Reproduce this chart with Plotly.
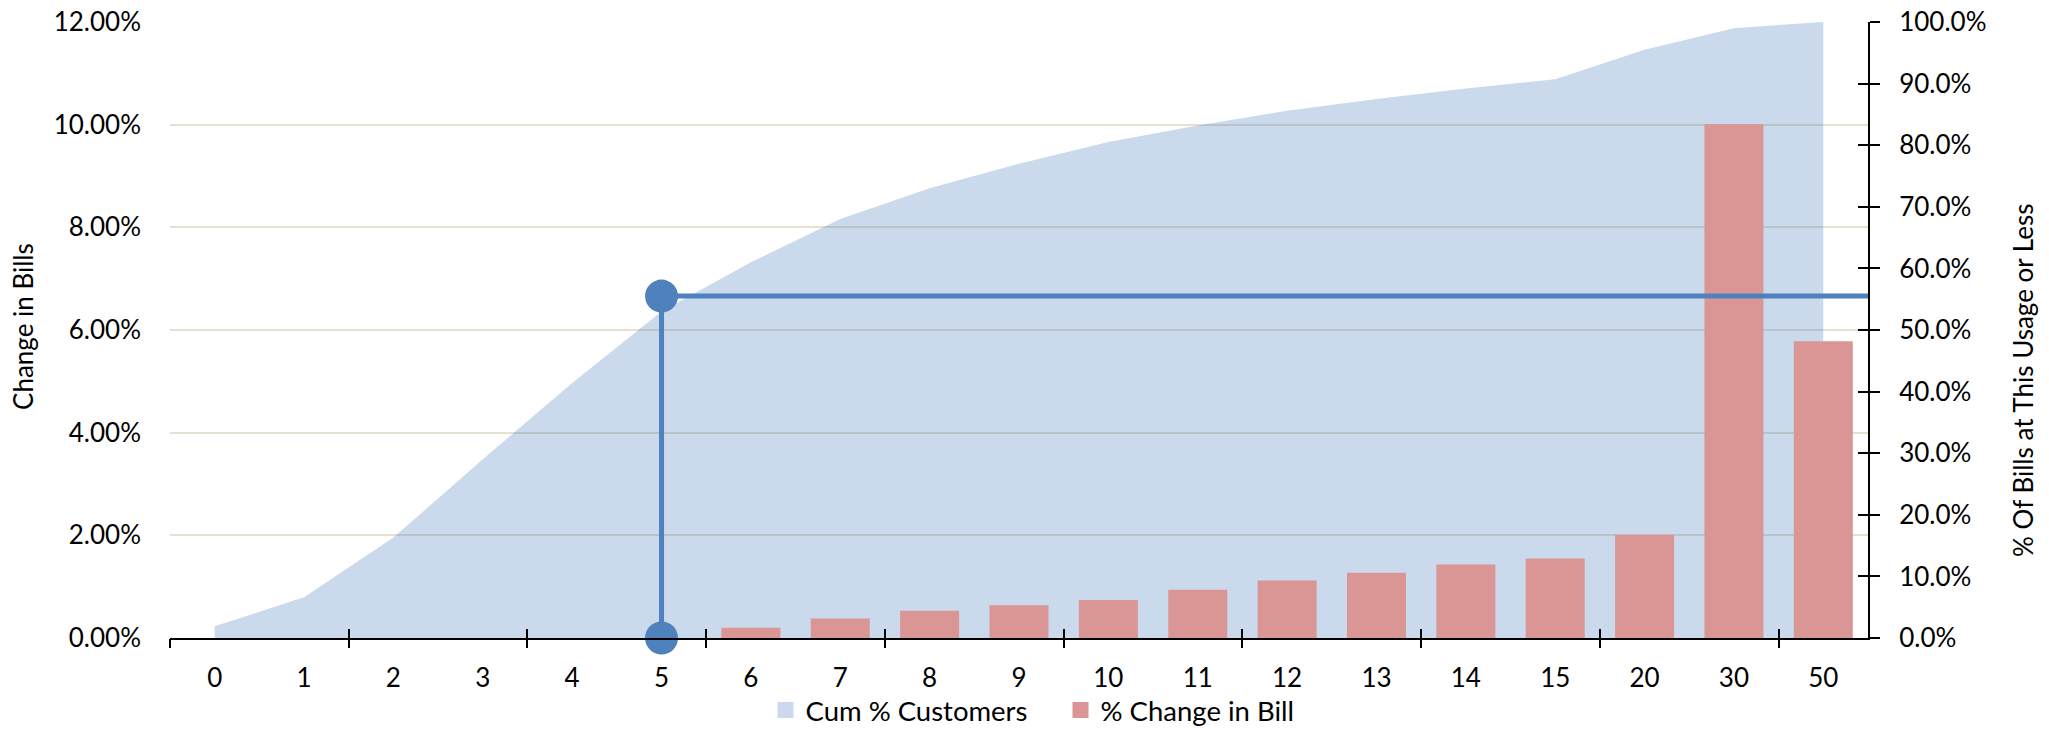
import plotly.graph_objects as go

categories = ["0", "1", "2", "3", "4", "5", "6", "7", "8", "9", "10",
              "11", "12", "13", "14", "15", "20", "30", "50"]
cum_customers = [0.019, 0.066, 0.163, 0.290, 0.414, 0.530, 0.610, 0.680,
                 0.730, 0.770, 0.805, 0.832, 0.856, 0.875, 0.892, 0.907,
                 0.955, 0.990, 1.000]
bill_change = [0, 0, 0, 0, 0, 0, 0.0020, 0.0038, 0.0053, 0.0064, 0.0074,
               0.0094, 0.0112, 0.0127, 0.0143, 0.0155, 0.0201, 0.1001, 0.0578]
series_names = ["Cum % Customers", "% Change in Bill"]
left_title = "Change in Bills"
right_title = "% Of Bills at This Usage or Less"
highlight_category = "5"
highlight_value = 0.0666

BLUE = "#4F81BD"
AREA = "rgba(79,129,189,0.30)"
AREA_SOLID = "#CAD9EB"
RED = "#D99694"
n = len(categories)
idx = list(range(n))
hx = categories.index(highlight_category)
xr = [-0.5, n - 0.5]
boundaries = [i - 0.5 for i in range(0, n, 2)]

fig = go.Figure()
fig.add_trace(go.Scatter(
    x=idx, y=cum_customers, name=series_names[0], mode="none",
    fill="tozeroy", fillcolor=AREA, showlegend=False,
    xaxis="x", yaxis="y"))
fig.add_trace(go.Bar(
    x=idx, y=bill_change, name=series_names[1], showlegend=False,
    marker=dict(color=RED, line=dict(width=0)),
    xaxis="x", yaxis="y2"))
fig.add_trace(go.Scatter(
    x=[hx, hx, xr[1]], y=[0, highlight_value, highlight_value],
    mode="lines+markers", showlegend=False, cliponaxis=False,
    marker=dict(size=[33, 33, 0], color=BLUE, opacity=1,
                line=dict(width=0)),
    line=dict(color=BLUE, width=5), opacity=1,
    xaxis="x", yaxis="y2"))
# legend swatches (square) for the two series
for name, col in zip(series_names, [AREA_SOLID, RED]):
    fig.add_trace(go.Scatter(
        x=[None], y=[None], name=name, mode="markers",
        marker=dict(symbol="square", size=18, color=col,
                    line=dict(width=0)),
        xaxis="x", yaxis="y"))
# empty traces so the tick-mark-only axes get drawn
for xa, ya in [("x2", "y"), ("x3", "y"), ("x", "y3")]:
    fig.add_trace(go.Scatter(x=[], y=[], xaxis=xa, yaxis=ya,
                             showlegend=False, hoverinfo="skip"))

tickfont = dict(family="Lato", size=26, color="black")
titlefont = dict(family="Lato", size=26, color="black")

fig.update_layout(
    width=2049, height=729,
    margin=dict(l=170, r=181, t=22, b=91, autoexpand=False),
    paper_bgcolor="white", plot_bgcolor="white",
    font=dict(family="Lato", color="black"),
    bargap=0.34,
    showlegend=True,
    legend=dict(orientation="h", x=0.3507, xanchor="left",
                y=-0.1169, yanchor="middle", bgcolor="rgba(0,0,0,0)",
                entrywidth=250,
                font=dict(family="Lato", size=27.5, color="black"),
                traceorder="normal"),
    xaxis=dict(range=xr, tickvals=idx, ticktext=categories, ticks="",
               showgrid=False, zeroline=False, showline=True,
               linecolor="black", linewidth=2, tickfont=tickfont,
               ticklabelstandoff=16),
    xaxis2=dict(range=xr, overlaying="x", anchor="y", side="bottom",
                tickvals=boundaries, ticks="outside", ticklen=9,
                tickwidth=1.7, tickcolor="black", showticklabels=False,
                showgrid=False, zeroline=False, showline=False),
    xaxis3=dict(range=xr, overlaying="x", anchor="y", side="bottom",
                tickvals=boundaries, ticks="inside", ticklen=9,
                tickwidth=1.7, tickcolor="black", showticklabels=False,
                showgrid=False, zeroline=False, showline=False),
    yaxis=dict(range=[0, 1], side="right", anchor="x", dtick=0.1,
               tickformat=".1%", ticks="outside", ticklen=10,
               tickwidth=2, tickcolor="black", showline=True,
               linecolor="black", linewidth=2, showgrid=False,
               zeroline=False, tickfont=tickfont, ticklabelstandoff=14),
    yaxis2=dict(range=[0, 0.12], overlaying="y", side="left", anchor="x",
                dtick=0.02, tickformat=".2%", ticks="", showline=False,
                showgrid=True, gridcolor="#E6E1CF", gridwidth=1.5,
                zeroline=False, tickfont=tickfont, ticklabelstandoff=28),
    yaxis3=dict(range=[0, 1], overlaying="y", side="right", anchor="x",
                dtick=0.1, ticks="inside", ticklen=10, tickwidth=2,
                tickcolor="black", showticklabels=False, showline=False,
                showgrid=False, zeroline=False),
    annotations=[
        dict(text=left_title, textangle=-90, xref="paper", yref="paper",
             x=-0.0866, y=0.5065, xanchor="center", yanchor="middle",
             showarrow=False, font=titlefont),
        dict(text=right_title, textangle=-90, xref="paper", yref="paper",
             x=1.0913, y=0.4188, xanchor="center", yanchor="middle",
             showarrow=False, font=titlefont),
    ],
)

fig.write_html(
    "out.html",
    config={"displayModeBar": False},
    post_script="document.body.style.margin='0';"
                "document.body.style.padding='0';")
